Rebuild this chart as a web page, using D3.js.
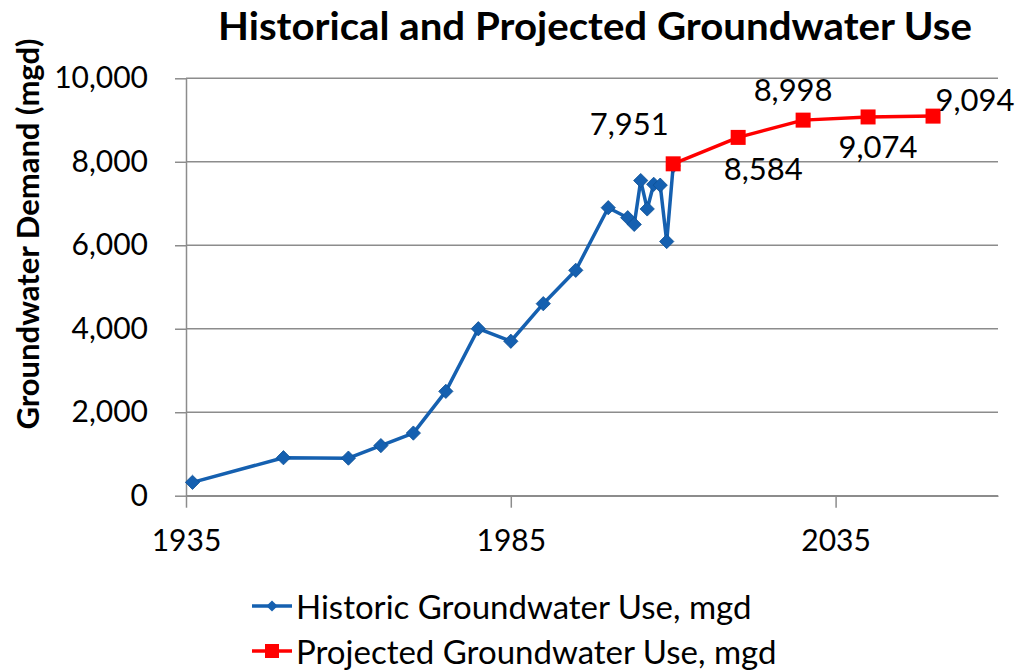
<!DOCTYPE html>
<html><head><meta charset="utf-8">
<script src="https://cdn.jsdelivr.net/npm/d3@7"></script>
<style>
html,body{margin:0;padding:0;background:#fff;}
svg{display:block;font-family:Lato,"Open Sans",sans-serif;}
</style></head>
<body>
<svg id="chart" width="1018" height="670"></svg>
<script>
const histYears  = [1936,1950,1960,1965,1970,1975,1980,1985,1990,1995,2000,2003,2004,2005,2006,2007,2008,2009,2010];
const histValues = [320,910,900,1200,1500,2500,4000,3700,4600,5400,6900,6660,6500,7550,6870,7460,7440,6090,7900];
const projYears  = [2010,2020,2030,2040,2050];
const projValues = [7951,8584,8998,9074,9094];
const yTicks = [0,2000,4000,6000,8000,10000];
const xTicks = [1935,1985,2035];
const seriesNames = ["Historic Groundwater Use, mgd","Projected Groundwater Use, mgd"];
const blue = "#1560b0", red = "#ff0000", grid = "#8c8c8c";

const svg = d3.select("#chart");
const x = d3.scaleLinear().domain([1935,2060]).range([186,998]);
const y = d3.scaleLinear().domain([0,10000]).range([495.7,78.3]);

// gridlines
svg.append("g").selectAll("line").data(yTicks).join("line")
  .attr("x1",x(1935)).attr("x2",x(2060))
  .attr("y1",d=>y(d)).attr("y2",d=>y(d))
  .attr("stroke",grid).attr("stroke-width",1.5);

// y axis
const yAxis = svg.append("g").attr("transform",`translate(${x(1935)},0)`)
  .call(d3.axisLeft(y).tickValues(yTicks).tickFormat(d3.format(",")).tickSize(11).tickSizeOuter(0).tickPadding(27));
yAxis.select(".domain").attr("stroke",grid).attr("stroke-width",1.5);
yAxis.selectAll(".tick line").attr("stroke",grid).attr("stroke-width",1.5);
yAxis.selectAll("text").attr("font-size",30).attr("fill","#000").attr("font-family","Lato");

// x axis
const xAxis = svg.append("g").attr("transform",`translate(0,${y(0)})`)
  .call(d3.axisBottom(x).tickValues(xTicks).tickFormat(d3.format("d")).tickSize(12).tickSizeOuter(0).tickPadding(22));
xAxis.select(".domain").attr("stroke",grid).attr("stroke-width",1.5);
xAxis.selectAll(".tick line").attr("stroke",grid).attr("stroke-width",1.5);
xAxis.selectAll("text").attr("font-size",30).attr("fill","#000").attr("font-family","Lato");

const line = d3.line().x(d=>x(d[0])).y(d=>y(d[1]));
const hist = histYears.map((d,i)=>[d,histValues[i]]);
const proj = projYears.map((d,i)=>[d,projValues[i]]);

svg.append("path").datum(hist).attr("d",line).attr("fill","none")
  .attr("stroke",blue).attr("stroke-width",3.5).attr("stroke-linejoin","round");
svg.append("g").selectAll("path").data(hist).join("path")
  .attr("d",d3.symbol(d3.symbolDiamond2, 130))
  .attr("transform",d=>`translate(${x(d[0])},${y(d[1])})`)
  .attr("fill",blue).attr("stroke","#0d4f94").attr("stroke-width",0.8);

svg.append("path").datum(proj).attr("d",line).attr("fill","none")
  .attr("stroke",red).attr("stroke-width",3.5).attr("stroke-linejoin","round");
svg.append("g").selectAll("rect").data(proj).join("rect")
  .attr("x",d=>x(d[0])-7.5).attr("y",d=>y(d[1])-7.5)
  .attr("width",15).attr("height",15).attr("fill",red);

// data labels (offsets in px from point)
const labelOffsets = [[-44,-41],[25,31],[-10,-31],[10,29],[42,-17]];
svg.append("g").selectAll("text").data(proj).join("text")
  .attr("x",(d,i)=>x(d[0])+labelOffsets[i][0])
  .attr("y",(d,i)=>y(d[1])+labelOffsets[i][1])
  .attr("text-anchor","middle").attr("dominant-baseline","central")
  .attr("font-size",31).attr("fill","#000")
  .text(d=>d3.format(",")(d[1]));

// title
svg.append("text").attr("x",595).attr("y",40).attr("text-anchor","middle")
  .attr("font-size",39).attr("font-weight","bold").attr("fill","#000")
  .attr("textLength",754).attr("lengthAdjust","spacingAndGlyphs")
  .text("Historical and Projected Groundwater Use");

// y title
svg.append("text").attr("transform","translate(39,234) rotate(-90)")
  .attr("text-anchor","middle").attr("font-size",31).attr("font-weight","bold").attr("fill","#000")
  .text("Groundwater Demand (mgd)");

// legend
const leg = svg.append("g");
const rows = [{c:blue,t:"d"},{c:red,t:"s"}];
rows.forEach((r,i)=>{
  const ly = 606 + i*45;
  leg.append("line").attr("x1",252).attr("x2",292).attr("y1",ly).attr("y2",ly)
    .attr("stroke",r.c).attr("stroke-width",3.5);
  if(r.t==="d"){
    leg.append("path").attr("d",d3.symbol(d3.symbolDiamond2,80)).attr("transform",`translate(272,${ly})`).attr("fill",r.c);
  } else {
    leg.append("rect").attr("x",265).attr("y",ly-7).attr("width",14).attr("height",14).attr("fill",r.c);
  }
  leg.append("text").attr("x",296).attr("y",ly).attr("dominant-baseline","central")
    .attr("font-size",33).attr("fill","#000").text(seriesNames[i]);
});
</script>
</body></html>
